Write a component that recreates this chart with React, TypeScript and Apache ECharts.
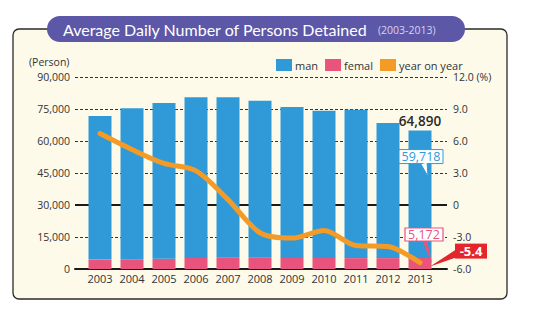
import React, { useEffect, useRef } from "react";
import * as echarts from "echarts";

const years = ["2003", "2004", "2005", "2006", "2007", "2008", "2009", "2010", "2011", "2012", "2013"];
const femaleValues = [4400, 4500, 4800, 5200, 5300, 5300, 5200, 5200, 5100, 5100, 5172];
const manValues = [67300, 70800, 73000, 75300, 75200, 73600, 70700, 69000, 69600, 63300, 59718];
const yoyValues = [6.7, 5.2, 3.9, 3.2, 0.5, -2.6, -3.1, -2.4, -3.8, -3.9, -5.4];
const personTicks = { min: 0, max: 90000, interval: 15000 };
const percentTicks = { min: -6, max: 12, interval: 3 };

const BLUE = "#2f9ad7";
const PINK = "#e8547c";
const ORANGE = "#f39a27";
const RED = "#e3262b";
const FONT = "'Open Sans', 'Noto Sans', sans-serif";

export default function App() {
  const ref = useRef<HTMLDivElement>(null);
  useEffect(() => {
    document.body.style.margin = "0";
    const chart = echarts.init(ref.current!, null, { renderer: "svg" });
    const last = years.length - 1;
    const total = manValues[last] + femaleValues[last];
    const option: any = {
      animation: false,
      backgroundColor: "#ffffff",
      textStyle: { fontFamily: FONT },
      grid: [
        { left: 75, right: 87, top: 77, bottom: 57 },
        { left: 84, right: 98, top: 77, bottom: 57 },
      ],
      legend: {
        left: 271,
        top: 54,
        itemWidth: 16,
        itemHeight: 12,
        itemGap: 7,
        icon: "rect",
        textStyle: { fontSize: 11, color: "#333", fontFamily: FONT, padding: [0, 0, 0, -2] },
        data: ["man", "femal", "year on year"],
      },
      xAxis: [
        {
          type: "value",
          gridIndex: 0,
          min: 0,
          max: 1,
          axisLine: { show: true, onZero: false, lineStyle: { color: "#1a1a1a", width: 2 } },
          axisTick: { show: false },
          axisLabel: { show: false },
          splitLine: { show: false },
        },
        {
          type: "category",
          gridIndex: 1,
          data: years,
          axisLine: { show: false },
          axisTick: { show: false },
          axisLabel: { color: "#333", fontSize: 11, margin: 4, interval: 0, fontFamily: FONT },
        },
      ],
      yAxis: [
        {
          type: "value",
          gridIndex: 0,
          ...personTicks,
          axisLine: { show: false },
          axisTick: { show: false },
          axisLabel: {
            color: "#333",
            fontSize: 10.5,
            margin: 5,
            fontFamily: FONT,
            formatter: (v: number) => v.toLocaleString("en-US"),
          },
          splitLine: { show: true, lineStyle: { color: "#333", width: 1, type: [3, 2] } },
        },
        {
          type: "value",
          gridIndex: 0,
          position: "right",
          ...percentTicks,
          axisLine: { show: false },
          axisTick: { show: false },
          axisLabel: {
            color: "#333",
            fontSize: 10.5,
            margin: 6,
            fontFamily: FONT,
            formatter: (v: number) => (v === 12 ? "12.0 (%)" : v === 0 ? "0" : v.toFixed(1)),
          },
          splitLine: { show: false },
        },
        { type: "value", gridIndex: 1, ...personTicks, show: false },
        { type: "value", gridIndex: 1, ...percentTicks, show: false },
      ],
      series: [
        {
          name: "zero",
          type: "line",
          xAxisIndex: 0,
          yAxisIndex: 1,
          data: [[0, 0], [1, 0]],
          symbol: "none",
          silent: true,
          lineStyle: { color: "#1a1a1a", width: 2 },
          z: 3,
        },
        {
          name: "femal",
          type: "bar",
          xAxisIndex: 1,
          yAxisIndex: 2,
          stack: "total",
          barWidth: 23,
          itemStyle: { color: PINK },
          data: femaleValues,
          z: 4,
        },
        {
          name: "man",
          type: "bar",
          xAxisIndex: 1,
          yAxisIndex: 2,
          stack: "total",
          barWidth: 23,
          itemStyle: { color: BLUE },
          data: manValues.map((v, i) =>
            i === last
              ? {
                  value: v,
                  label: {
                    show: true,
                    position: "top",
                    distance: 3,
                    formatter: () => total.toLocaleString("en-US"),
                    color: "#2a2a2a",
                    fontSize: 13.5,
                    fontWeight: 600,
                    fontFamily: FONT,
                  },
                }
              : v
          ),
          z: 4,
        },
        {
          name: "year on year",
          type: "line",
          xAxisIndex: 1,
          yAxisIndex: 3,
          data: yoyValues,
          smooth: 0.3,
          symbol: "none",
          itemStyle: { color: ORANGE },
          lineStyle: { color: ORANGE, width: 5, cap: "round" },
          z: 5,
        },
      ],
    };
    chart.setOption(option);

    const [cx, yTotal] = chart.convertToPixel({ xAxisIndex: 1, yAxisIndex: 2 } as any, [last, total]) as number[];
    const yBase = (chart.convertToPixel({ xAxisIndex: 1, yAxisIndex: 2 } as any, [last, 0]) as number[])[1];
    const yLine = (chart.convertToPixel({ xAxisIndex: 1, yAxisIndex: 3 } as any, [last, yoyValues[last]]) as number[])[1];

    const manTop = yTotal + 19;
    const femTop = yBase - 41;
    const redTop = yLine - 19;

    chart.setOption({
      graphic: [
        {
          type: "rect",
          z: -10,
          silent: true,
          shape: { x: 13, y: 29, width: 494, height: 270, r: 6 },
          style: { fill: "#fdfaea", stroke: "#2a2a2a", lineWidth: 1.3 },
        },
        {
          type: "rect",
          z: 50,
          silent: true,
          shape: { x: 47, y: 16, width: 418, height: 26, r: 13 },
          style: { fill: "#5c57a6" },
        },
        {
          type: "text",
          z: 51,
          silent: true,
          x: 63,
          y: 29,
          style: {
            text: "Average Daily Number of Persons Detained",
            fill: "#ffffff",
            font: "16px Lato, sans-serif",
            verticalAlign: "middle",
          },
        },
        {
          type: "text",
          z: 51,
          silent: true,
          x: 378,
          y: 30,
          style: {
            text: "(2003-2013)",
            fill: "#d6d2f2",
            font: "10.5px " + FONT,
            verticalAlign: "middle",
          },
        },
        {
          type: "text",
          z: 10,
          silent: true,
          x: 29,
          y: 62,
          style: { text: "(Person)", fill: "#333", font: "10.5px " + FONT, verticalAlign: "middle" },
        },
        // 59,718 callout
        {
          type: "polygon",
          z: 60,
          silent: true,
          shape: { points: [[cx, manTop + 13], [cx + 7, manTop + 13], [cx + 8, manTop + 27]] },
          style: { fill: "#ffffff", stroke: BLUE, lineWidth: 1 },
        },
        {
          type: "rect",
          z: 61,
          silent: true,
          shape: { x: cx - 21, y: manTop, width: 44, height: 14 },
          style: { fill: "#ffffff", stroke: BLUE, lineWidth: 1 },
        },
        {
          type: "polygon",
          z: 62,
          silent: true,
          shape: { points: [[cx + 0.5, manTop + 13], [cx + 6.5, manTop + 13], [cx + 7, manTop + 15]] },
          style: { fill: "#ffffff" },
        },
        {
          type: "text",
          z: 63,
          silent: true,
          x: cx + 1,
          y: manTop + 7,
          style: {
            text: manValues[last].toLocaleString("en-US"),
            fill: BLUE,
            font: "12.5px " + FONT,
            align: "center",
            verticalAlign: "middle",
          },
        },
        // 5,172 callout
        {
          type: "polygon",
          z: 60,
          silent: true,
          shape: { points: [[cx + 2, femTop + 12], [cx + 7, femTop + 12], [cx + 12, yLine + 1]] },
          style: { fill: PINK },
        },
        {
          type: "rect",
          z: 61,
          silent: true,
          shape: { x: cx - 15, y: femTop, width: 38, height: 13 },
          style: { fill: "#ffffff", stroke: PINK, lineWidth: 1.2 },
        },
        {
          type: "text",
          z: 63,
          silent: true,
          x: cx + 4,
          y: femTop + 6.5,
          style: {
            text: femaleValues[last].toLocaleString("en-US"),
            fill: PINK,
            font: "12.5px " + FONT,
            align: "center",
            verticalAlign: "middle",
          },
        },
        // -5.4 callout
        {
          type: "polygon",
          z: 60,
          silent: true,
          shape: { points: [[cx + 36, redTop + 6], [cx + 36, redTop + 14], [cx + 10, yLine + 4]] },
          style: { fill: RED },
        },
        {
          type: "rect",
          z: 61,
          silent: true,
          shape: { x: cx + 35, y: redTop, width: 32, height: 15 },
          style: { fill: RED },
        },
        {
          type: "text",
          z: 63,
          silent: true,
          x: cx + 51,
          y: redTop + 7.5,
          style: {
            text: yoyValues[last].toFixed(1),
            fill: "#ffffff",
            font: "bold 13px " + FONT,
            align: "center",
            verticalAlign: "middle",
          },
        },
      ],
    });
    return () => chart.dispose();
  }, []);
  return <div ref={ref} style={{ width: 534, height: 326 }} />;
}
